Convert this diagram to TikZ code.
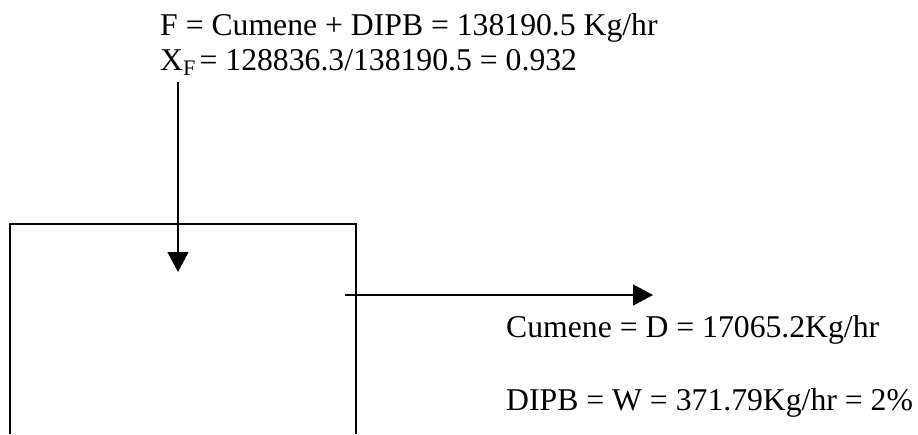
\documentclass[tikz,border=0pt]{standalone}
\usepackage{fontspec}
\setmainfont{Liberation Serif}
\usetikzlibrary{arrows.meta}
\begin{document}
\begin{tikzpicture}[x=1pt,y=-1pt,
  label/.style={anchor=base west,inner sep=0pt,font=\fontsize{31.7}{36}\selectfont},
  wall/.style={line width=1.3pt},
  flow/.style={line width=1.3pt,-{Triangle[length=20pt,width=21pt]}}]
  \useasboundingbox (0,0) rectangle (918,434);
  % feed stream data
  \node[label] (feed) at (160,35) {F = Cumene + DIPB = 138190.5 Kg/hr};
  \node[label] (xf) at (160,70) {X\textsubscript{F\,}= 128836.3/138190.5 = 0.932};
  % product stream data
  \node[label] (dist) at (506,337) {Cumene = D = 17065.2Kg/hr};
  \node[label] (bott) at (506,410) {DIPB = W = 371.79Kg/hr = 2\%};
  % column body, open at the bottom
  \coordinate (bl) at (10,434);
  \coordinate (tl) at (10,224);
  \coordinate (tr) at (356,224);
  \coordinate (br) at (356,434);
  \draw[wall] (bl) -- (tl) -- (tr) -- (br);
  % feed arrow
  \coordinate (fin) at (178,82);
  \coordinate (fend) at (178,272);
  \draw[flow] (fin) -- (fend);
  % distillate arrow
  \coordinate (dout) at (345,295);
  \coordinate (dend) at (653,295);
  \draw[flow] (dout) -- (dend);
\end{tikzpicture}
\end{document}
